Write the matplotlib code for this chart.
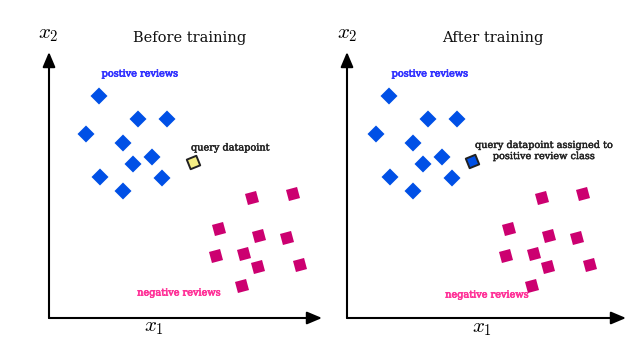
import numpy as np
import matplotlib.pyplot as plt
import matplotlib.patheffects as pe
from matplotlib.markers import MarkerStyle

plt.rcParams['mathtext.fontset'] = 'cm'
serif = 'DejaVu Serif'

# positions (shared coordinates, left panel origin = 0)
pos_x = [50, 89, 118, 37, 74, 103, 84, 51, 113, 74]
pos_y = [222, 199, 199, 184, 175, 161, 154, 141, 140, 127]
neg_x = [244, 203, 170, 210, 238, 167, 195, 209, 251, 193]
neg_y = [124, 120, 89, 82, 80, 62, 64, 51, 53, 32]

query_before = (144, 156)
query_after = (133, 157)

panels = [
    {"title": "Before training", "x0": 0, "query": query_before,
     "qcolor": "#f5ee84", "neg_label": (130, 25)},
    {"title": "After training", "x0": 8, "query": query_after,
     "qcolor": "#0050e6", "neg_label": (148, 23)},
]

fig = plt.figure(figsize=(6.4, 3.58), dpi=100)
axes_pos = [[49/640, 40/358, 273/640, 266/358],
            [347/640, 40/358, 279/640, 266/358]]

diamond = MarkerStyle('D')
sq = MarkerStyle('s')
sq._transform = sq.get_transform().rotate_deg(15)
qsq = MarkerStyle('s')
qsq._transform = qsq.get_transform().rotate_deg(22)


def thick(c, w=0.5):
    return [pe.withStroke(linewidth=w, foreground=c)]


for p, rect in zip(panels, axes_pos):
    ax = fig.add_axes(rect)
    x0 = p["x0"]
    w = rect[2] * 640
    ax.set_xlim(x0, x0 + w)
    ax.set_ylim(0, 266)
    ax.axis('off')

    # axis arrows
    ax.annotate('', xy=(1, 0), xytext=(0, 0), xycoords='axes fraction',
                arrowprops=dict(arrowstyle='-|>,head_length=0.9,head_width=0.38',
                                lw=1.5, color='black', shrinkA=0, shrinkB=0))
    ax.annotate('', xy=(0, 1), xytext=(0, 0), xycoords='axes fraction',
                arrowprops=dict(arrowstyle='-|>,head_length=0.9,head_width=0.38',
                                lw=1.5, color='black', shrinkA=0, shrinkB=0))

    ax.scatter(pos_x, pos_y, marker=diamond, s=75, color='#0050e6',
               edgecolors='none', clip_on=False)
    ax.scatter(neg_x, neg_y, marker=sq, s=68, color='#cc0070',
               edgecolors='none', clip_on=False)
    ax.scatter([p["query"][0]], [p["query"][1]], marker=qsq, s=55,
               color=p["qcolor"], edgecolors='#222222', linewidths=1.4,
               clip_on=False)

    ax.text(91, 244, 'postive reviews', color='#3333ff', fontsize=7,
            family=serif, ha='center', va='center',
            path_effects=thick('#3333ff'))
    ax.text(p["neg_label"][0], p["neg_label"][1], 'negative reviews',
            color='#ff3399', fontsize=7, family=serif, ha='center', va='center',
            path_effects=thick('#ff3399'))

    if x0 == 0:
        ax.text(142, 170, 'query datapoint', color='#222222', fontsize=7,
                family=serif, ha='left', va='center',
                path_effects=thick('#222222', 0.3))
    else:
        ax.text(205, 167, 'query datapoint assigned to\npositive review class',
                color='#222222', fontsize=7, family=serif, ha='center',
                va='center', linespacing=1.3,
                path_effects=thick('#222222', 0.3))

fig.text(190/640, 1 - 38/358, 'Before training', fontsize=10.5, family=serif,
         ha='center', va='center', color='#111111')
fig.text(493/640, 1 - 38/358, 'After training', fontsize=10.5, family=serif,
         ha='center', va='center', color='#111111')
fig.text(48/640, 1 - 34/358, r'$x_2$', fontsize=15, ha='center', va='center')
fig.text(347/640, 1 - 34/358, r'$x_2$', fontsize=15, ha='center', va='center')
fig.text(154/640, 1 - 327/358, r'$x_1$', fontsize=15, ha='center', va='center')
fig.text(482/640, 1 - 328/358, r'$x_1$', fontsize=15, ha='center', va='center')

plt.savefig('out.png', dpi=100)
